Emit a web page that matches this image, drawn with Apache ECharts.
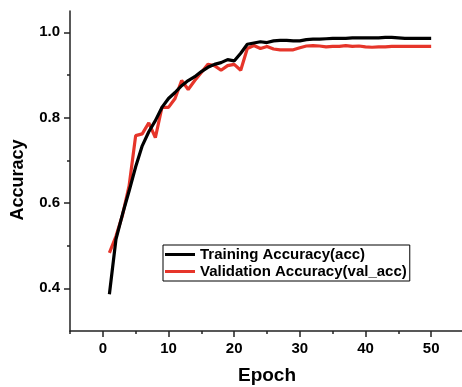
<!DOCTYPE html>
<html>
<head>
<meta charset="utf-8">
<script src="https://cdn.jsdelivr.net/npm/echarts@6/dist/echarts.min.js"></script>
<style>
html,body{margin:0;padding:0;background:#fff;}
#chart{width:462px;height:387px;}
</style>
</head>
<body>
<div id="chart"></div>
<script>
var epochs = [1,2,3,4,5,6,7,8,9,10,11,12,13,14,15,16,17,18,19,20,21,22,23,24,25,26,27,28,29,30,31,32,33,34,35,36,37,38,39,40,41,42,43,44,45,46,47,48,49,50];
var trainAcc = [0.386,0.515,0.574,0.628,0.685,0.734,0.767,0.793,0.824,0.845,0.859,0.875,0.887,0.896,0.908,0.918,0.925,0.929,0.936,0.933,0.951,0.972,0.975,0.978,0.976,0.980,0.981,0.981,0.980,0.980,0.983,0.984,0.984,0.985,0.986,0.986,0.986,0.987,0.987,0.987,0.987,0.987,0.988,0.988,0.987,0.986,0.986,0.986,0.986,0.986];
var valAcc = [0.483,0.522,0.572,0.640,0.758,0.762,0.788,0.753,0.824,0.824,0.845,0.887,0.866,0.887,0.906,0.925,0.922,0.911,0.922,0.925,0.911,0.962,0.969,0.962,0.967,0.961,0.959,0.959,0.959,0.964,0.968,0.969,0.968,0.966,0.967,0.967,0.969,0.967,0.968,0.966,0.965,0.966,0.966,0.967,0.967,0.967,0.967,0.967,0.967,0.967];
var xMajorTicks = [0,10,20,30,40,50];
var xMinorTicks = [-5,5,15,25,35,45,55];
var yMajorTicks = [0.4,0.6,0.8,1.0];
var yMinorTicks = [0.5,0.7,0.9];
var seriesNames = ['Training Accuracy(acc)','Validation Accuracy(val_acc)'];

var FONT = 'Liberation Sans, Arial, sans-serif';
var axisColor = '#222';
var chart = echarts.init(document.getElementById('chart'), null, {renderer:'canvas'});

function pairs(xs, ys){ return xs.map(function(x,i){ return [x, ys[i]]; }); }

chart.setOption({
  animation:false,
  backgroundColor:'#fff',
  grid: {left:70, top:11, width:394, height:320, containLabel:false, outerBoundsMode:'none'},
  legend: {
    orient:'vertical', left:163, top:245,
    borderColor:'#000', borderWidth:1, borderRadius:0,
    padding:[2,3,2,2], itemGap:2,
    itemWidth:30, itemHeight:3,
    textStyle:{fontFamily:FONT, fontWeight:'bold', fontSize:15, color:'#000'},
    data:[{name:seriesNames[0], icon:'rect'},{name:seriesNames[1], icon:'rect'}]
  },
  xAxis: [{
    type:'value', min:-5, max:55,
    name:'Epoch', nameLocation:'middle', nameGap:35,
    nameTextStyle:{fontFamily:FONT, fontWeight:'bold', fontSize:19, color:'#000'},
    axisLine:{show:true, onZero:false, lineStyle:{color:axisColor, width:1.5}},
    axisTick:{show:true, customValues:xMajorTicks, length:6, lineStyle:{color:axisColor, width:1.5}},
    axisLabel:{customValues:xMajorTicks, margin:10, fontFamily:FONT, fontWeight:'bold', fontSize:15, color:'#000'},
    splitLine:{show:false}
  },{
    type:'value', min:-5, max:55, position:'bottom',
    axisLine:{show:false, onZero:false},
    axisTick:{show:true, customValues:xMinorTicks, length:3, lineStyle:{color:axisColor, width:1.5}},
    axisLabel:{show:false},
    splitLine:{show:false}
  }],
  yAxis: [{
    type:'value', min:0.3, max:1.05,
    name:'Accuracy', nameLocation:'middle', nameGap:43,
    nameTextStyle:{fontFamily:FONT, fontWeight:'bold', fontSize:18, color:'#000', padding:[0,18,0,0]},
    axisLine:{show:true, onZero:false, lineStyle:{color:axisColor, width:1.5}},
    axisTick:{show:true, customValues:yMajorTicks, length:6, lineStyle:{color:axisColor, width:1.5}},
    axisLabel:{customValues:yMajorTicks, margin:10, fontFamily:FONT, fontWeight:'bold', fontSize:15, color:'#000',
      formatter:function(v){ return v.toFixed(1); }},
    splitLine:{show:false}
  },{
    type:'value', min:0.3, max:1.05, position:'left',
    axisLine:{show:false, onZero:false},
    axisTick:{show:true, customValues:yMinorTicks, length:3, lineStyle:{color:axisColor, width:1.5}},
    axisLabel:{show:false},
    splitLine:{show:false}
  }],
  series: [{
    name:seriesNames[0], type:'line', data:pairs(epochs, trainAcc),
    showSymbol:false, symbol:'none', z:3,
    itemStyle:{color:'#000'},
    lineStyle:{color:'#000', width:3.2}
  },{
    name:seriesNames[1], type:'line', data:pairs(epochs, valAcc),
    showSymbol:false, symbol:'none', z:2,
    itemStyle:{color:'#e6352a'},
    lineStyle:{color:'#e6352a', width:3.2}
  }]
});
</script>
</body>
</html>
